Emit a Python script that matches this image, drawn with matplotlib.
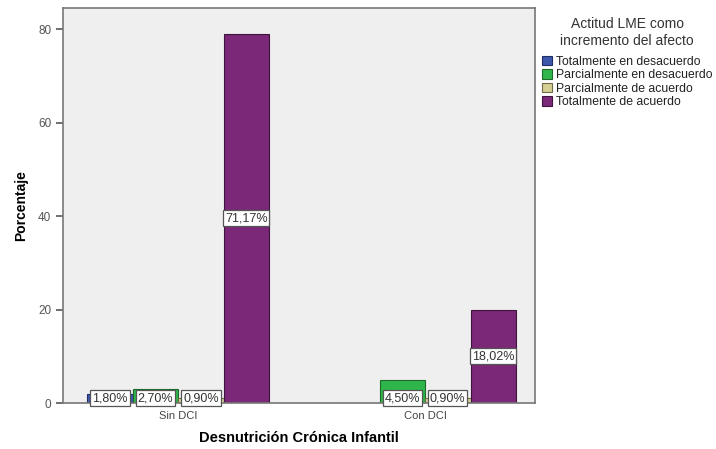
import matplotlib.pyplot as plt
import numpy as np

plt.rcParams['font.family'] = ['Liberation Sans', 'DejaVu Sans']

groups = ['Sin DCI', 'Con DCI']
categories = ['Totalmente en desacuerdo', 'Parcialmente en desacuerdo',
              'Parcialmente de acuerdo', 'Totalmente de acuerdo']
# counts per group, one list per category
counts = {
    'Totalmente en desacuerdo': [2, 0],
    'Parcialmente en desacuerdo': [3, 5],
    'Parcialmente de acuerdo': [1, 1],
    'Totalmente de acuerdo': [79, 20],
}
colors = ['#3d57ab', '#2fb64a', '#d6cf93', '#7b2879']
edges = ['#1f2f66', '#1d6a2a', '#6e6a48', '#3d143c']
total = sum(sum(v) for v in counts.values())

fig = plt.figure(figsize=(7.16, 4.49), dpi=100)
ax = fig.add_axes([63 / 716, 46 / 449, 472 / 716, 395 / 449])
ax.set_facecolor('#efefef')

x = np.arange(len(groups))
w = 0.184
for i, cat in enumerate(categories):
    vals = counts[cat]
    pos = x + (i - 1.5) * w
    ax.bar(pos, vals, width=w, color=colors[i], edgecolor=edges[i],
           linewidth=0.8, label=cat, zorder=2)
    for p, v in zip(pos, vals):
        if v == 0:
            continue
        txt = f'{v / total * 100:.2f}%'.replace('.', ',')
        yc = v / 2 if v > 6 else 1.0
        ax.text(p, yc, txt, ha='center', va='center', fontsize=9, color='#333333',
                bbox=dict(boxstyle='square,pad=0.15', fc='white', ec='#555555', lw=0.9),
                zorder=3)

ax.set_xlim(-0.466, 1.445)
ax.set_ylim(0, 84.5)
ax.set_yticks([0, 20, 40, 60, 80])
ax.set_xticks(x)
ax.set_xticklabels(groups)
ax.tick_params(axis='y', colors='#555555', labelsize=8.5, length=5, width=1.2,
               labelcolor='#555555')
ax.tick_params(axis='x', length=0, labelsize=8, labelcolor='#444444', pad=6)
for s in ax.spines.values():
    s.set_color('#777777')
    s.set_linewidth(1.2)

ax.set_ylabel('Porcentaje', fontsize=10, fontweight='bold', labelpad=7)
ax.set_xlabel('Desnutrición Crónica Infantil', fontsize=10.5, fontweight='bold',
              labelpad=7)

leg = ax.legend(loc='upper left', bbox_to_anchor=(1.0, 0.995), frameon=False,
                title='Actitud LME como\nincremento del afecto', fontsize=8.8,
                title_fontsize=10, handlelength=0.8, handleheight=0.8,
                handletextpad=0.3, labelspacing=0.12, borderaxespad=0.2)
leg._legend_box.align = 'center'
leg._legend_box.sep = 6
leg.get_title().set_multialignment('center')
leg.get_title().set_color('#333333')
for t in leg.get_texts():
    t.set_color('#222222')

fig.savefig('out.png', dpi=100)
